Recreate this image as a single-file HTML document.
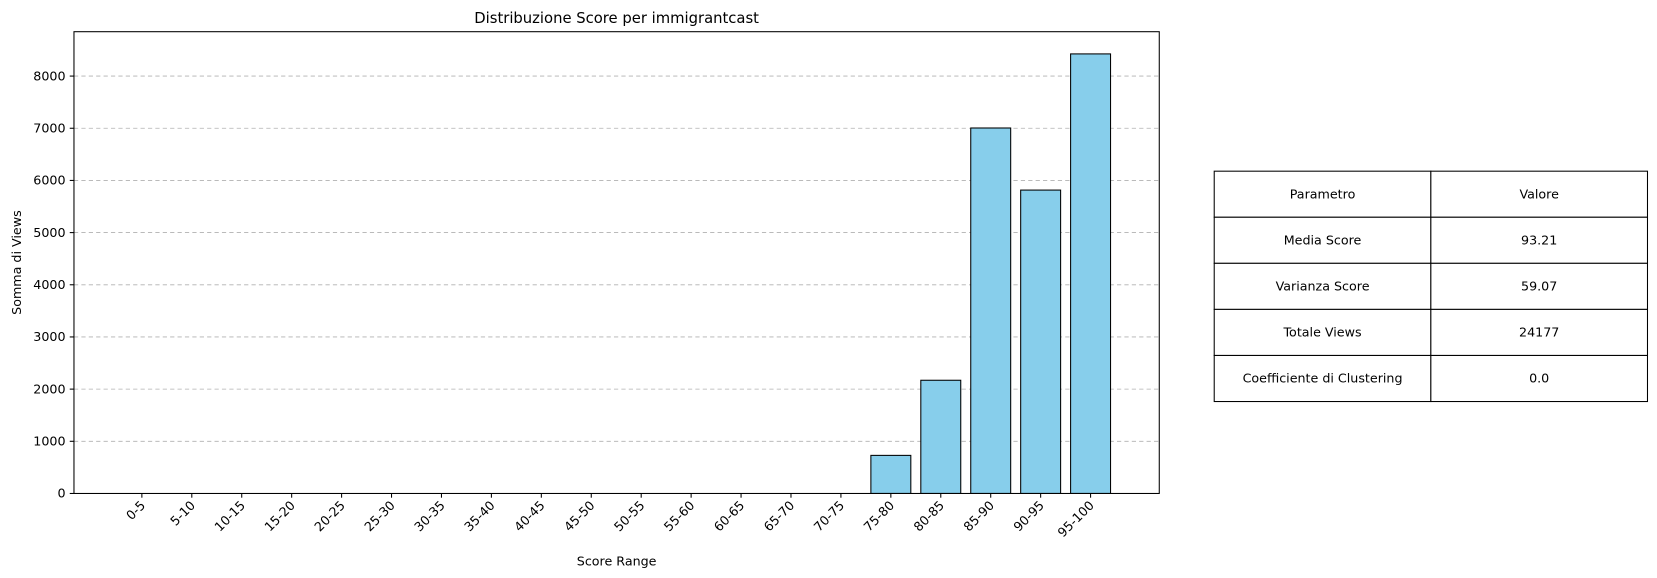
<!DOCTYPE html>
<html><head><meta charset="utf-8"><style>
html,body{margin:0;padding:0;width:1657px;height:578px;overflow:hidden;background:#fff;font-family:"DejaVu Sans","Liberation Sans",sans-serif;}
svg{display:block;}
</style></head><body>
<svg width="1657" height="578" viewBox="0 0 1568 547" preserveAspectRatio="none" xmlns="http://www.w3.org/2000/svg" font-family="DejaVu Sans, Liberation Sans, sans-serif">
<g id="grid"></g><g id="bars"></g><g id="axes"></g><g id="table"></g>
</svg>
<script>
const categories=["0-5","5-10","10-15","15-20","20-25","25-30","30-35","35-40","40-45","45-50","50-55","55-60","60-65","65-70","70-75","75-80","80-85","85-90","90-95","95-100"];
const views=[0,0,0,0,0,0,0,0,0,0,0,0,0,0,0,730,2170,7005,5815,8425];
const yTicks=[0,1000,2000,3000,4000,5000,6000,7000,8000];
const tableRows=[["Parametro","Valore"],["Media Score","93.21"],["Varianza Score","59.07"],["Totale Views","24177"],["Coefficiente di Clustering","0.0"]];
const NS="http://www.w3.org/2000/svg";
const L=70,R=1097,T=30,B=467;
const y=v=>B-v*(467-72)/8000;
const x=i=>134.25+i*47.25;
function mk(tag,attrs,parent,text){const e=document.createElementNS(NS,tag);for(const k in attrs)e.setAttribute(k,attrs[k]);if(text!==undefined)e.textContent=text;document.getElementById(parent).appendChild(e);return e;}
yTicks.forEach(t=>{
 if(t>0){const g=mk('line',{x1:L,x2:R,y1:y(t),y2:y(t),stroke:'#b0b0b0','stroke-width':0.8,'stroke-dasharray':'4,3'},'grid');
 
 }
 mk('line',{x1:L-4,x2:L,y1:y(t),y2:y(t),stroke:'#000'},'axes');
 const lb=mk('text',{x:L-8,y:y(t)+4,'text-anchor':'end','font-size':12},'axes',String(t));
 
 
});
categories.forEach((c,i)=>{
 const bw=37.8;
 const r=mk('rect',{x:x(i)-bw/2,y:y(views[i]),width:bw,height:Math.max(0,B-y(views[i])),fill:'#87ceeb',stroke:'#000','stroke-width':1},'bars');
 
 
 mk('line',{x1:x(i),x2:x(i),y1:B,y2:B+4,stroke:'#000'},'axes');
 const t=mk('text',{x:x(i)+4,y:B+12,'text-anchor':'end','font-size':12,transform:`rotate(-45 ${x(i)+4} ${B+12})`},'axes',c);
 
 
});
const fr=mk('rect',{x:L,y:T,width:R-L,height:B-T,fill:'none',stroke:'#000','stroke-width':1},'axes');


const ti=mk('text',{x:(L+R)/2,y:22,'text-anchor':'middle','font-size':14},'axes','Distribuzione Score per immigrantcast');


const xt=mk('text',{x:(L+R)/2,y:535,'text-anchor':'middle','font-size':12},'axes','Score Range');


const yt=mk('text',{x:20,y:(T+B)/2,'text-anchor':'middle','font-size':12,transform:`rotate(-90 20 ${(T+B)/2})`},'axes','Somma di Views');


const tx=[1149,1354,1559],ty=162,rh=43.6;
tableRows.forEach((row,r)=>{
 row.forEach((cell,c)=>{
  const rc=mk('rect',{x:tx[c],y:ty+r*rh,width:tx[c+1]-tx[c],height:rh,fill:'#fff',stroke:'#000','stroke-width':1},'table');
  
  
  const tt=mk('text',{x:(tx[c]+tx[c+1])/2,y:ty+r*rh+rh/2+4,'text-anchor':'middle','font-size':12},'table',cell);
  
  
 });
});
</script>
</body></html>
